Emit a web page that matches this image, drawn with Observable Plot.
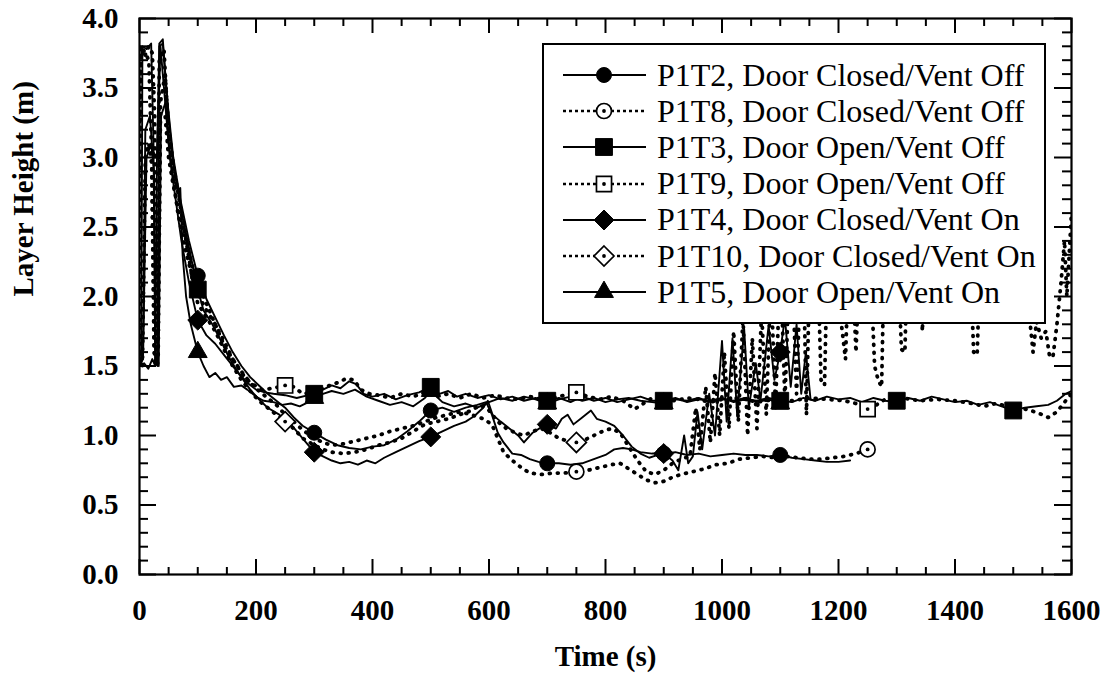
<!DOCTYPE html>
<html><head><meta charset="utf-8">
<script src="https://cdn.jsdelivr.net/npm/d3@7"></script>
<script src="https://cdn.jsdelivr.net/npm/@observablehq/plot@0.6"></script>
<style>
body{margin:0;background:#fff;}
#wrap{position:relative;width:1111px;height:684px;overflow:hidden;}
#legend{position:absolute;box-sizing:border-box;left:542px;top:43px;width:504px;height:281px;border:2px solid #000;background:#fff;font-family:"Liberation Serif","Times New Roman",serif;font-size:32px;color:#000;}
.row{position:absolute;left:0;height:36px;display:flex;align-items:center;white-space:nowrap;}
.row span{font-family:"Liberation Serif","Times New Roman",serif;}
.row svg{display:block;}
</style></head>
<body><div id="wrap"></div>
<script>
// ---- data: time (s), layer height (m) ----
const p1t2 = [[0,1.6],[6,1.55],[10,3.2],[18,3.3],[22,3.05],[30,3.0],[34,3.8],[40,3.82],[48,3.4],[58,3.0],[70,2.7],[85,2.4],[100,2.15],[115,1.98],[130,1.85],[145,1.72],[160,1.6],[175,1.5],[190,1.42],[205,1.36],[220,1.3],[235,1.25],[250,1.2],[265,1.13],[280,1.07],[300,1.02],[320,0.97],[340,0.93],[360,0.91],[380,0.9],[400,0.92],[420,0.93],[440,0.97],[460,1.03],[480,1.1],[500,1.18],[520,1.2],[540,1.17],[560,1.2],[580,1.22],[595,1.24],[605,1.15],[615,1.02],[625,0.95],[640,0.87],[655,0.86],[670,0.83],[685,0.81],[700,0.8],[720,0.8],[740,0.79],[760,0.8],[780,0.83],[800,0.86],[815,0.9],[830,0.91],[845,0.9],[860,0.88],[880,0.87],[900,0.87],[920,0.88],[940,0.86],[960,0.87],[980,0.85],[1000,0.86],[1020,0.87],[1040,0.86],[1060,0.86],[1080,0.85],[1100,0.86],[1120,0.84],[1140,0.83],[1160,0.82],[1180,0.81],[1200,0.81],[1220,0.82]];
const p1t8 = [[0,3.2],[3,3.8],[10,3.75],[16,3.7],[21,3.0],[25,1.6],[30,1.52],[34,3.7],[42,3.78],[48,3.3],[56,2.9],[66,2.6],[78,2.35],[90,2.15],[100,2.02],[115,1.9],[130,1.8],[145,1.68],[160,1.55],[175,1.46],[190,1.38],[205,1.32],[220,1.27],[235,1.22],[250,1.15],[265,1.1],[280,1.04],[300,0.98],[315,0.95],[330,0.93],[350,0.94],[370,0.96],[390,0.98],[410,1.0],[430,1.03],[450,1.05],[470,1.07],[490,1.1],[510,1.13],[530,1.15],[550,1.17],[570,1.15],[590,1.12],[605,1.08],[615,0.98],[625,0.88],[640,0.82],[655,0.77],[670,0.73],[690,0.72],[710,0.73],[730,0.73],[750,0.74],[770,0.75],[790,0.77],[810,0.79],[825,0.8],[840,0.76],[855,0.72],[870,0.68],[885,0.66],[900,0.67],[915,0.7],[930,0.72],[950,0.74],[970,0.76],[990,0.79],[1010,0.8],[1030,0.83],[1050,0.84],[1070,0.85],[1090,0.84],[1110,0.85],[1130,0.84],[1150,0.83],[1170,0.83],[1190,0.84],[1210,0.85],[1230,0.87],[1250,0.9]];
const p1t3 = [[0,1.55],[3,1.52],[5,3.8],[12,3.78],[20,3.82],[24,3.1],[27,1.52],[31,1.5],[34,3.82],[40,3.85],[46,3.5],[52,3.2],[60,2.9],[70,2.65],[80,2.45],[90,2.25],[100,2.05],[110,1.9],[125,1.8],[140,1.68],[155,1.55],[170,1.45],[185,1.38],[200,1.33],[215,1.31],[230,1.3],[250,1.29],[270,1.27],[290,1.29],[300,1.3],[315,1.33],[330,1.36],[345,1.34],[360,1.39],[372,1.37],[385,1.3],[400,1.28],[420,1.3],[440,1.26],[460,1.29],[480,1.31],[500,1.35],[515,1.3],[530,1.32],[545,1.28],[560,1.3],[580,1.27],[600,1.29],[620,1.26],[640,1.28],[660,1.25],[680,1.27],[700,1.25],[720,1.27],[740,1.24],[760,1.28],[780,1.25],[800,1.27],[820,1.24],[840,1.26],[860,1.28],[880,1.25],[900,1.25],[920,1.27],[940,1.24],[960,1.26],[980,1.25],[1000,1.27],[1020,1.24],[1040,1.26],[1060,1.25],[1080,1.27],[1100,1.25],[1120,1.24],[1140,1.27],[1160,1.25],[1180,1.28],[1200,1.26],[1220,1.27],[1240,1.24],[1260,1.27],[1280,1.25],[1300,1.24],[1320,1.27],[1340,1.25],[1360,1.28],[1380,1.26],[1400,1.24],[1420,1.25],[1440,1.22],[1460,1.24],[1480,1.21],[1500,1.18],[1520,1.2],[1540,1.21],[1560,1.22],[1575,1.25],[1590,1.3],[1600,1.32]];
const p1t9 = [[0,1.6],[2,3.8],[8,3.72],[16,3.8],[22,3.75],[26,3.3],[29,1.58],[32,1.55],[36,3.32],[44,3.3],[50,3.0],[58,2.8],[68,2.6],[80,2.4],[92,2.2],[100,2.1],[115,1.95],[130,1.8],[145,1.65],[160,1.55],[175,1.45],[190,1.38],[210,1.33],[230,1.34],[250,1.36],[265,1.35],[280,1.3],[300,1.31],[320,1.35],[340,1.38],[355,1.41],[368,1.4],[380,1.33],[395,1.3],[410,1.29],[430,1.27],[450,1.3],[470,1.28],[490,1.31],[510,1.28],[530,1.3],[550,1.27],[570,1.3],[590,1.27],[610,1.29],[630,1.27],[650,1.26],[670,1.28],[690,1.26],[710,1.27],[730,1.29],[750,1.31],[770,1.28],[790,1.26],[810,1.28],[830,1.25],[850,1.19],[865,1.23],[880,1.27],[900,1.26],[920,1.25],[940,1.27],[960,1.26],[980,1.24],[1000,1.26],[1030,1.27],[1060,1.24],[1090,1.26],[1120,1.25],[1150,1.27],[1180,1.26],[1210,1.25],[1230,1.23],[1250,1.19],[1265,1.22],[1280,1.26],[1310,1.27],[1340,1.25],[1370,1.26],[1400,1.25],[1430,1.23],[1450,1.21],[1470,1.23],[1490,1.21],[1510,1.2],[1530,1.18],[1550,1.15],[1560,1.13],[1575,1.17],[1590,1.25],[1600,1.3]];
const p1t4 = [[0,1.5],[6,1.55],[12,3.0],[20,3.1],[25,2.9],[28,1.55],[33,1.5],[37,3.3],[45,3.4],[52,3.0],[62,2.7],[72,2.4],[85,2.1],[100,1.83],[115,1.72],[130,1.66],[145,1.58],[160,1.5],[175,1.42],[190,1.33],[205,1.26],[220,1.2],[240,1.15],[260,1.08],[280,0.98],[300,0.88],[315,0.85],[330,0.82],[345,0.8],[360,0.81],[375,0.79],[390,0.82],[405,0.8],[420,0.84],[440,0.88],[460,0.92],[480,0.96],[500,0.99],[520,1.03],[540,1.07],[560,1.1],[575,1.14],[590,1.2],[598,1.25],[606,1.15],[620,1.1],[635,1.05],[650,1.0],[660,0.95],[675,1.02],[690,1.06],[700,1.08],[715,1.05],[725,1.12],[735,1.15],[745,1.08],[760,1.13],[775,1.18],[785,1.12],[800,1.1],[815,1.07],[830,1.0],[845,0.92],[860,0.87],[875,0.84],[890,0.86],[900,0.87],[915,0.82],[925,0.75],[935,1.0],[942,0.8],[950,0.85],[958,1.17],[966,0.9],[978,1.3],[988,1.0],[1000,1.68],[1008,1.1],[1018,1.7],[1026,1.15],[1038,1.77],[1046,1.2],[1058,1.52],[1066,1.25],[1080,1.79],[1090,1.4],[1100,1.6],[1108,1.85],[1118,1.35],[1128,1.8],[1136,1.3],[1144,1.6],[1152,1.26],[1160,1.25]];
const p1t10 = [[0,1.55],[5,1.5],[10,3.0],[16,3.1],[21,2.95],[26,1.55],[31,1.5],[36,3.4],[44,3.6],[50,3.2],[58,2.95],[68,2.7],[80,2.4],[90,2.15],[100,1.95],[115,1.85],[130,1.75],[145,1.62],[160,1.5],[175,1.4],[190,1.32],[205,1.25],[220,1.2],[235,1.15],[250,1.1],[265,1.05],[280,0.98],[300,0.93],[315,0.9],[330,0.88],[350,0.87],[370,0.88],[390,0.9],[410,0.93],[430,0.95],[450,0.98],[470,1.03],[490,1.08],[510,1.1],[530,1.12],[550,1.15],[570,1.18],[585,1.22],[600,1.18],[615,1.1],[630,1.05],[645,1.02],[660,1.0],[675,1.03],[690,1.05],[705,1.02],[720,0.98],[735,0.96],[750,0.95],[765,0.97],[780,1.0],[795,1.03],[810,1.05],[825,1.02],[840,0.92],[855,0.82],[870,0.74],[885,0.72],[900,0.75],[915,0.8],[930,0.83],[945,0.85],[955,1.2],[962,0.9],[972,1.35],[980,0.95],[988,1.45],[996,1.0],[1004,1.6],[1012,1.05],[1020,1.75],[1028,1.1],[1036,1.85],[1044,1.0],[1052,1.7],[1060,1.05],[1068,1.9],[1076,1.15],[1084,2.1],[1092,1.2],[1100,2.3],[1108,1.25],[1118,2.5],[1128,1.3],[1138,2.6],[1145,1.15],[1152,2.5],[1162,2.6],[1170,1.4],[1176,1.36],[1182,2.5],[1195,2.6],[1205,1.8],[1212,1.55],[1220,2.6],[1230,1.6],[1238,2.5],[1250,2.7],[1262,1.5],[1268,1.4],[1274,1.35],[1280,2.6],[1290,2.7],[1300,2.5],[1308,1.62],[1314,1.6],[1320,2.6],[1335,2.7],[1344,1.75],[1350,2.6],[1370,2.8],[1390,2.7],[1410,2.6],[1425,2.4],[1432,1.6],[1438,1.58],[1445,2.5],[1465,2.7],[1480,2.65],[1492,2.5],[1500,2.4],[1508,2.1],[1514,2.35],[1520,2.0],[1528,1.85],[1534,1.6],[1540,1.82],[1548,1.7],[1556,1.75],[1562,1.58],[1568,1.56],[1575,1.8],[1582,2.1],[1588,2.4],[1592,2.0],[1596,2.3],[1600,2.6]];
const p1t5 = [[0,1.5],[8,1.52],[15,1.48],[22,1.55],[27,1.5],[30,3.0],[36,3.8],[42,3.5],[50,3.1],[58,2.85],[66,2.76],[70,2.78],[74,2.3],[80,2.0],[88,1.8],[100,1.6],[110,1.5],[120,1.42],[130,1.45],[140,1.4],[150,1.42],[162,1.35],[175,1.36],[185,1.33],[200,1.28],[213,1.25],[230,1.24],[245,1.22],[260,1.23],[275,1.21],[290,1.24],[300,1.27],[315,1.3],[330,1.32],[350,1.3],[370,1.33],[390,1.28],[410,1.25],[430,1.22],[450,1.24],[470,1.21],[490,1.27],[500,1.32],[520,1.24],[540,1.21],[560,1.23],[580,1.2],[600,1.24],[620,1.27],[640,1.25],[660,1.28],[680,1.26],[700,1.23],[720,1.26],[740,1.28],[760,1.25],[780,1.27],[800,1.24],[820,1.26],[840,1.27],[860,1.25],[880,1.24],[900,1.23],[920,1.26],[940,1.25],[960,1.27],[980,1.24],[1000,1.26],[1020,1.25],[1040,1.27],[1060,1.24],[1080,1.26],[1100,1.23]];

// marker positions on each curve
const p1t2Marks = [[100,2.15],[300,1.02],[500,1.18],[700,0.8],[900,0.87],[1100,0.86]];
const p1t8Marks = [[750,0.74],[1250,0.9]];
const p1t3Marks = [[100,2.05],[300,1.3],[500,1.35],[700,1.25],[900,1.25],[1100,1.25],[1300,1.25],[1500,1.18]];
const p1t9Marks = [[250,1.36],[750,1.31],[1250,1.19]];
const p1t4Marks = [[100,1.83],[300,0.88],[500,0.99],[700,1.08],[900,0.87],[1100,1.6]];
const p1t10Marks = [[250,1.1],[750,0.95]];
const p1t5Marks = [[100,1.6],[300,1.27],[500,1.32],[700,1.23],[900,1.23],[1100,1.23]];

const seriesNames = ["P1T2, Door Closed/Vent Off","P1T8, Door Closed/Vent Off","P1T3, Door Open/Vent Off","P1T9, Door Open/Vent Off","P1T4, Door Closed/Vent On","P1T10, Door Closed/Vent On","P1T5, Door Open/Vent On"];

const xTickValues = [0,200,400,600,800,1000,1200,1400,1600];
const yTickValues = [0,0.5,1,1.5,2,2.5,3,3.5,4];
const xMinorValues = d3.range(0,1601,50);
const yMinorValues = d3.range(0,41,1).map(d=>d/10);

// ---- styling / construction ----
const series = [
  {name:seriesNames[0], data:p1t2, marks:p1t2Marks, dotted:false, symbol:"circle", open:false, r:7.5},
  {name:seriesNames[1], data:p1t8, marks:p1t8Marks, dotted:true, symbol:"circle", open:true, r:7.5},
  {name:seriesNames[2], data:p1t3, marks:p1t3Marks, dotted:false, symbol:"square", open:false, r:9.5},
  {name:seriesNames[3], data:p1t9, marks:p1t9Marks, dotted:true, symbol:"square", open:true, r:8.5},
  {name:seriesNames[4], data:p1t4, marks:p1t4Marks, dotted:false, symbol:"diamond2", open:false, r:9},
  {name:seriesNames[5], data:p1t10, marks:p1t10Marks, dotted:true, symbol:"diamond2", open:true, r:9},
  {name:seriesNames[6], data:p1t5, marks:p1t5Marks, dotted:false, symbol:"triangle", open:false, r:7}
];

const W = 1111, H = 684, mL = 139, mR = 40, mT = 18, mB = 110;
const fH = H - mT - mB, fW = W - mL - mR;
const X = d => d[0], Y = d => d[1];

const lineMarks = series.map(s => s.dotted
  ? Plot.line(s.data, {x:X, y:Y, stroke:"black", strokeWidth:3.8, strokeDasharray:"0.8,7.2", strokeLinecap:"round", strokeLinejoin:"round"})
  : Plot.line(s.data, {x:X, y:Y, stroke:"black", strokeWidth:1.9, strokeLinejoin:"round"}));

const order = [6,0,1,2,3,4,5];
const markerMarks = [];
for (const i of order) {
  const s = series[i];
  if (s.open) {
    markerMarks.push(Plot.dot(s.marks, {x:X, y:Y, symbol:s.symbol, r:s.r, fill:"white", stroke:"black", strokeWidth:1.7}));
    markerMarks.push(Plot.dot(s.marks, {x:X, y:Y, r:1.9, fill:"black", stroke:"none"}));
  } else {
    markerMarks.push(Plot.dot(s.marks, {x:X, y:Y, symbol:s.symbol, r:s.r, fill:"black", stroke:"black", strokeWidth:1}));
  }
}

const xMajorSet = new Set(xTickValues);
const yMajorSet = new Set(yTickValues.map(v=>Math.round(v*10)));
const xMinorOnly = xMinorValues.filter(v=>!xMajorSet.has(v));
const yMinorOnly = yMinorValues.filter(v=>!yMajorSet.has(Math.round(v*10)));

const chart = Plot.plot({
  width: W, height: H,
  marginLeft: mL, marginRight: mR, marginTop: mT, marginBottom: mB,
  x: {domain:[0,1600], label:null},
  y: {domain:[0,4], label:null},
  clip: true,
  style: {fontFamily:"'Liberation Serif','Times New Roman',serif", fontSize:"29px", fontWeight:"bold", background:"white", color:"black", overflow:"visible"},
  marks: [
    ...lineMarks,
    ...markerMarks,
    Plot.tickX(xMinorOnly, {x:d=>d, insetTop:fH-7, strokeWidth:2, clip:false}),
    Plot.tickX(xTickValues, {x:d=>d, insetTop:fH-15, strokeWidth:2, clip:false}),
    Plot.tickX(xMinorOnly, {x:d=>d, insetBottom:fH-8, strokeWidth:2, clip:false}),
    Plot.tickX(xTickValues, {x:d=>d, insetBottom:fH-15, strokeWidth:2, clip:false}),
    Plot.tickY(yMinorOnly, {y:d=>d, insetRight:fW-9, strokeWidth:2, clip:false}),
    Plot.tickY(yTickValues, {y:d=>d, insetRight:fW-17, strokeWidth:2, clip:false}),
    Plot.tickY(yMinorOnly, {y:d=>d, insetLeft:fW-9, strokeWidth:2, clip:false}),
    Plot.tickY(yTickValues, {y:d=>d, insetLeft:fW-17, strokeWidth:2, clip:false}),
    Plot.frame({stroke:"black", strokeWidth:2.2}),
    Plot.axisX(xTickValues, {tickSize:0, tickPadding:25, tickFormat:d=>String(d), fontSize:29, fontWeight:"bold"}),
    Plot.axisY(yTickValues, {tickSize:0, tickPadding:21, tickFormat:d3.format(".1f"), fontSize:29, fontWeight:"bold"}),
    Plot.text(["Time (s)"], {text:d=>d, frameAnchor:"bottom", dy:91, fontSize:29, fontWeight:"bold", clip:false}),
    Plot.text(["Layer Height (m)"], {text:d=>d, frameAnchor:"left", dx:-116, rotate:-90, fontSize:29, fontWeight:"bold", clip:false})
  ]
});

const wrap = document.getElementById("wrap");
wrap.appendChild(chart);

// ---- legend ----
const legend = document.createElement("div");
legend.id = "legend";
wrap.appendChild(legend);
const symMap = {circle:d3.symbolCircle, square:d3.symbolSquare, diamond2:d3.symbolDiamond2, triangle:d3.symbolTriangle};
series.forEach((s, i) => {
  const row = document.createElement("div");
  row.className = "row";
  row.style.top = (12 + i*36.2) + "px";
  const svg = d3.create("svg").attr("width", 113).attr("height", 36);
  const line = svg.append("line").attr("x1",19).attr("x2",102).attr("y1",18).attr("y2",18).attr("stroke","black");
  if (s.dotted) line.attr("stroke-width",2.6).attr("stroke-dasharray","3,3");
  else line.attr("stroke-width",1.9);
  const path = d3.symbol().type(symMap[s.symbol]).size(Math.PI*s.r*s.r)();
  const g = svg.append("g").attr("transform","translate(60,18)");
  g.append("path").attr("d", path).attr("fill", s.open ? "white" : "black").attr("stroke","black").attr("stroke-width", s.open ? 1.7 : 1);
  if (s.open) g.append("circle").attr("r",1.9).attr("fill","black");
  row.appendChild(svg.node());
  const span = document.createElement("span");
  span.textContent = s.name;
  row.appendChild(span);
  legend.appendChild(row);
});
</script>
</body></html>
